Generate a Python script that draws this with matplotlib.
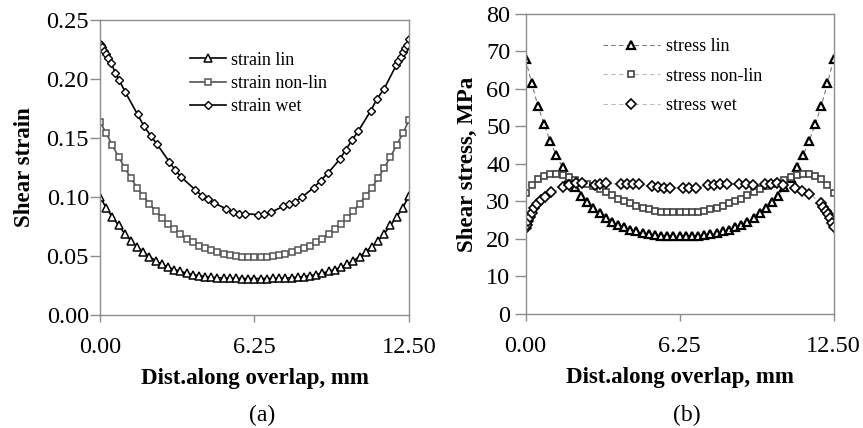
import numpy as np
import matplotlib.pyplot as plt

plt.rcParams['font.family'] = ['Liberation Serif', 'DejaVu Serif']

# node positions along the overlap (mm)
x_grid = [0.00, 0.25, 0.50, 0.75, 1.00, 1.25, 1.50, 1.75, 2.00, 2.25,
          2.50, 2.75, 3.00, 3.25, 3.50, 3.75, 4.00, 4.25, 4.50, 4.75,
          5.00, 5.25, 5.50, 5.75, 6.00, 6.25, 6.50, 6.75, 7.00, 7.25,
          7.50, 7.75, 8.00, 8.25, 8.50, 8.75, 9.00, 9.25, 9.50, 9.75,
          10.00, 10.25, 10.50, 10.75, 11.00, 11.25, 11.50, 11.75, 12.00, 12.25,
          12.50]
x_wet = [0.00, 0.05, 0.10, 0.17, 0.25, 0.34, 0.45, 0.62, 0.78, 1.02,
         1.52, 1.78, 2.05, 2.30, 2.80, 3.04, 3.28, 3.86, 4.12, 4.36,
         4.61, 5.11, 5.37, 5.62, 5.86, 6.40, 6.65, 6.90, 7.41, 7.66,
         7.90, 8.17, 8.65, 8.93, 9.21, 9.70, 9.94, 10.19, 10.45, 10.95,
         11.20, 11.50, 11.99, 12.07, 12.17, 12.26, 12.34, 12.42, 12.50]

strain_lin = [0.100, 0.091, 0.083, 0.076, 0.069, 0.063, 0.058, 0.0535, 0.0495, 0.046,
              0.043, 0.0405, 0.0385, 0.037, 0.0355, 0.0342, 0.0333, 0.0326, 0.0320, 0.0316,
              0.0313, 0.0311, 0.0310, 0.0309, 0.0309, 0.0309,
              0.0309, 0.0309, 0.0310, 0.0311, 0.0313, 0.0316, 0.0320, 0.0326, 0.0333, 0.0342,
              0.0355, 0.037, 0.0385, 0.0405, 0.043, 0.046, 0.0495, 0.0535, 0.058, 0.063,
              0.069, 0.076, 0.083, 0.091, 0.101]
strain_nonlin = [0.164, 0.154, 0.144, 0.134, 0.125, 0.116, 0.108, 0.101, 0.0945, 0.088,
                 0.0825, 0.077, 0.0725, 0.0685, 0.0648, 0.0615, 0.0587, 0.0565, 0.0548, 0.0533,
                 0.052, 0.0508, 0.050, 0.0494, 0.0490, 0.0488,
                 0.0490, 0.0494, 0.050, 0.0508, 0.052, 0.0533, 0.0548, 0.0565, 0.0587, 0.0615,
                 0.0648, 0.0685, 0.0725, 0.077, 0.0825, 0.088, 0.0945, 0.101, 0.108, 0.116,
                 0.125, 0.134, 0.144, 0.154, 0.165]
strain_wet = [0.230, 0.229, 0.227, 0.224, 0.221, 0.218, 0.214, 0.205, 0.199, 0.189,
              0.170, 0.160, 0.152, 0.145, 0.130, 0.123, 0.117, 0.106, 0.101, 0.098,
              0.095, 0.090, 0.087, 0.086, 0.086, 0.085, 0.086, 0.087, 0.092, 0.094,
              0.096, 0.100, 0.108, 0.114, 0.120, 0.132, 0.140, 0.148, 0.156, 0.173,
              0.183, 0.192, 0.212, 0.215, 0.219, 0.223, 0.226, 0.229, 0.234]

stress_lin = [68.0, 61.5, 55.5, 50.6, 46.0, 42.3, 39.1, 36.3, 33.8, 31.5,
              29.9, 28.3, 27.0, 25.7, 24.6, 23.7, 23.1, 22.4, 22.0, 21.6,
              21.3, 21.1, 20.9, 20.8, 20.8, 20.8,
              20.8, 20.8, 20.9, 21.1, 21.3, 21.6, 22.0, 22.4, 23.1, 23.7,
              24.6, 25.7, 27.0, 28.3, 29.9, 31.5, 33.8, 36.3, 39.1, 42.3,
              46.0, 50.6, 55.5, 61.5, 68.0]
stress_nonlin = [32.3, 34.4, 35.9, 36.9, 37.3, 37.3, 37.1, 36.4, 35.6, 35.0,
                 34.6, 34.2, 33.2, 32.4, 31.6, 30.7, 30.1, 29.5, 28.9, 28.3,
                 27.9, 27.5, 27.2, 27.1, 27.1, 27.1,
                 27.1, 27.1, 27.2, 27.5, 27.9, 28.3, 28.9, 29.5, 30.1, 30.7,
                 31.6, 32.4, 33.2, 34.2, 34.6, 35.0, 35.6, 36.4, 37.1, 37.3,
                 37.3, 36.9, 35.9, 34.4, 32.3]
stress_wet = [23.0, 23.8, 24.8, 25.9, 27.0, 28.2, 29.2, 30.4, 31.2, 32.4,
              33.8, 34.4, 34.8, 34.8, 34.4, 34.6, 34.9, 34.6, 34.6, 34.6,
              34.6, 34.0, 33.8, 33.7, 33.7, 33.7, 33.7, 33.7, 34.4, 34.4,
              34.6, 34.7, 34.6, 34.6, 34.4, 34.6, 34.6, 34.8, 34.3, 33.7,
              32.9, 32.0, 29.7, 28.6, 27.5, 26.6, 25.5, 24.3, 23.1]

x_ticks = [0.0, 6.25, 12.5]
x_ticklabels = ['0.00', '6.25', '12.50']

fig = plt.figure(figsize=(8.63, 4.28), dpi=100)
ax1 = fig.add_axes([0.1159, 0.264, 0.358, 0.689])
ax2 = fig.add_axes([0.609, 0.2664, 0.357, 0.701])

GRAY = '#8c8c8c'


def style_axes(ax):
    for s in ax.spines.values():
        s.set_color(GRAY)
        s.set_linewidth(1.0)
    ax.set_xlim(0, 12.5)
    ax.set_xticks(x_ticks)
    ax.set_xticklabels(x_ticklabels)
    ax.tick_params(axis='x', direction='out', length=5, width=1, color=GRAY,
                   labelsize=17.5, pad=11)
    ax.tick_params(axis='y', direction='out', length=7, width=1, color=GRAY,
                   labelsize=17.5, pad=1)


# (a) shear strain
ax1.plot(x_grid, strain_lin, '-', color='black', lw=1.2, marker='^', ms=5.8,
         mfc='white', mec='black', mew=1.1, label='strain lin')
ax1.plot(x_grid, strain_nonlin, '-', color='#555555', lw=1.2, marker='s', ms=4.8,
         mfc='white', mec='#555555', mew=1.1, label='strain non-lin')
ax1.plot(x_wet, strain_wet, '-', color='black', lw=1.2, marker='D', ms=4.5,
         mfc='white', mec='black', mew=1.0, label='strain wet')
style_axes(ax1)
ax1.set_ylim(0, 0.25)
ax1.set_yticks([0, 0.05, 0.10, 0.15, 0.20, 0.25])
ax1.set_yticklabels(['0.00', '0.05', '0.10', '0.15', '0.20', '0.25'])
ax1.set_xlabel('Dist.along overlap, mm', fontsize=16.5, fontweight='bold', labelpad=7)
ax1.set_ylabel('Shear strain', fontsize=16.5, fontweight='bold', labelpad=8)
ax1.legend(loc='upper left', bbox_to_anchor=(0.29, 0.893), frameon=False,
           fontsize=13, handlelength=2.0, handletextpad=0.3, labelspacing=0.35,
           borderpad=0, borderaxespad=0)

# (b) shear stress
ax2.plot(x_grid, stress_lin, linestyle=(0, (4, 3)), color='#777777', lw=0.8,
         marker='^', ms=6, mfc='white', mec='black', mew=1.6, label='stress lin')
ax2.plot(x_grid, stress_nonlin, linestyle=(0, (4, 3)), color='#bbbbbb', lw=0.8,
         marker='s', ms=5, mfc='white', mec='#444444', mew=1.2, label='stress non-lin')
ax2.plot(x_wet, stress_wet, linestyle=(0, (4, 3)), color='#bbbbbb', lw=0.8,
         marker='D', ms=4.6, mfc='white', mec='black', mew=1.2, label='stress wet')
style_axes(ax2)
ax2.set_ylim(0, 80)
ax2.set_yticks(range(0, 81, 10))
ax2.tick_params(axis='y', length=8, pad=3)
ax2.set_xlabel('Dist.along overlap, mm', fontsize=16.5, fontweight='bold', labelpad=7)
ax2.set_ylabel('Shear stress, MPa', fontsize=16.5, fontweight='bold', labelpad=6)
ax2.legend(loc='upper left', bbox_to_anchor=(0.25, 0.92), frameon=False,
           fontsize=13, handlelength=3.2, handletextpad=0.3, labelspacing=0.7,
           borderpad=0, borderaxespad=0)

fig.text(262 / 863, 0.03, '(a)', ha='center', va='center', fontsize=17)
fig.text(687 / 863, 0.03, '(b)', ha='center', va='center', fontsize=17)

fig.savefig('out.png', dpi=100)
